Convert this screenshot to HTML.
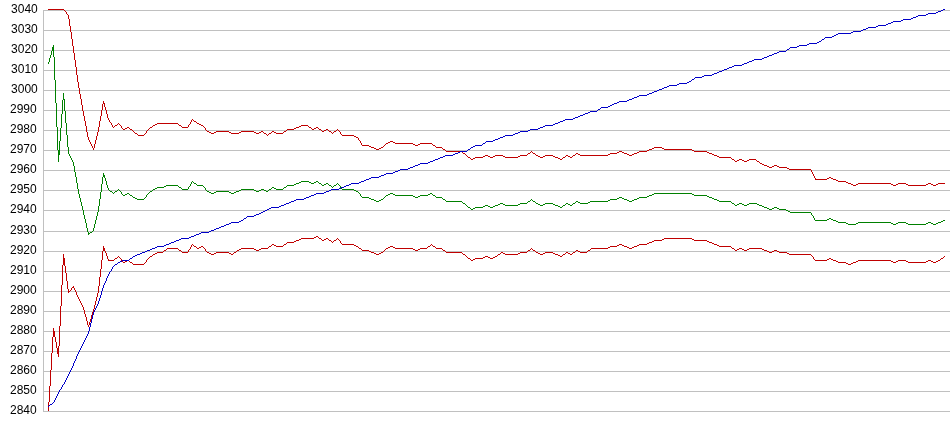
<!DOCTYPE html>
<html><head><meta charset="utf-8"><title>Chart</title>
<style>
html,body{margin:0;padding:0;background:#fff;}
svg{display:block}
text{font-family:"Liberation Sans",sans-serif;font-size:12px;fill:#000;text-anchor:end}
path{shape-rendering:crispEdges;stroke:none}
</style></head><body>
<svg width="950" height="435" viewBox="0 0 950 435">
<rect width="950" height="435" fill="#fff"/>
<path fill="#c0c0c0" d="M43 10h907v1h-907zM43 30h907v1h-907zM43 50h907v1h-907zM43 70h907v1h-907zM43 90h907v1h-907zM43 110h907v1h-907zM43 130h907v1h-907zM43 150h907v1h-907zM43 170h907v1h-907zM43 190h907v1h-907zM43 210h907v1h-907zM43 231h907v1h-907zM43 251h907v1h-907zM43 271h907v1h-907zM43 291h907v1h-907zM43 311h907v1h-907zM43 331h907v1h-907zM43 351h907v1h-907zM43 371h907v1h-907zM43 391h907v1h-907zM43 411h907v1h-907zM43 10h1v402h-1z"/>
<g>
<text x="37.8" y="12.7">3040</text>
<text x="37.8" y="32.7">3030</text>
<text x="37.8" y="52.7">3020</text>
<text x="37.8" y="72.7">3010</text>
<text x="37.8" y="92.7">3000</text>
<text x="36.7" y="112.7">2990</text>
<text x="36.7" y="132.7">2980</text>
<text x="36.7" y="152.7">2970</text>
<text x="36.7" y="172.7">2960</text>
<text x="36.7" y="192.7">2950</text>
<text x="36.7" y="212.7">2940</text>
<text x="36.7" y="233.7">2930</text>
<text x="36.7" y="253.7">2920</text>
<text x="36.7" y="273.7">2910</text>
<text x="36.7" y="293.7">2900</text>
<text x="36.7" y="313.7">2890</text>
<text x="36.7" y="333.7">2880</text>
<text x="36.7" y="353.7">2870</text>
<text x="36.7" y="373.7">2860</text>
<text x="36.7" y="393.7">2850</text>
<text x="36.7" y="413.7">2840</text>
</g>
<path fill="#008000" d="M192 181h1v1h-1zM301 181h8v1h-8zM316 181h2v1h-2zM193 182h1v1h-1zM299 182h2v1h-2zM309 182h2v1h-2zM314 182h2v1h-2zM318 182h1v1h-1zM194 183h2v1h-2zM296 183h3v1h-3zM311 183h3v1h-3zM319 183h2v1h-2zM326 183h2v1h-2zM337 183h1v1h-1zM196 184h1v1h-1zM294 184h2v1h-2zM321 184h1v1h-1zM324 184h2v1h-2zM328 184h1v1h-1zM336 184h1v1h-1zM338 184h1v1h-1zM166 185h12v1h-12zM197 185h6v1h-6zM287 185h7v1h-7zM322 185h2v1h-2zM329 185h2v1h-2zM334 185h2v1h-2zM339 185h1v1h-1zM164 186h2v1h-2zM178 186h1v1h-1zM189 186h1v1h-1zM203 186h1v1h-1zM286 186h1v1h-1zM331 186h1v1h-1zM333 186h1v1h-1zM157 187h7v1h-7zM179 187h2v1h-2zM204 187h1v1h-1zM272 187h2v1h-2zM284 187h2v1h-2zM332 187h1v1h-1zM155 188h2v1h-2zM181 188h1v1h-1zM271 188h1v1h-1zM274 188h2v1h-2zM283 188h1v1h-1zM341 188h1v1h-1zM118 189h1v1h-1zM153 189h2v1h-2zM182 189h6v1h-6zM241 189h13v1h-13zM261 189h3v1h-3zM269 189h2v1h-2zM276 189h7v1h-7zM342 189h12v1h-12zM109 190h1v1h-1zM117 190h1v1h-1zM119 190h1v1h-1zM152 190h1v1h-1zM206 190h1v1h-1zM239 190h2v1h-2zM254 190h2v1h-2zM259 190h2v1h-2zM264 190h2v1h-2zM268 190h1v1h-1zM354 190h2v1h-2zM110 191h2v1h-2zM115 191h2v1h-2zM120 191h1v1h-1zM150 191h2v1h-2zM207 191h2v1h-2zM216 191h13v1h-13zM236 191h3v1h-3zM256 191h3v1h-3zM266 191h2v1h-2zM356 191h2v1h-2zM112 192h1v1h-1zM114 192h1v1h-1zM149 192h1v1h-1zM209 192h2v1h-2zM214 192h2v1h-2zM229 192h2v1h-2zM234 192h2v1h-2zM358 192h1v1h-1zM113 193h1v1h-1zM127 193h2v1h-2zM148 193h1v1h-1zM211 193h3v1h-3zM231 193h3v1h-3zM359 193h1v1h-1zM390 193h3v1h-3zM430 193h2v1h-2zM654 193h38v1h-38zM122 194h1v1h-1zM125 194h2v1h-2zM129 194h1v1h-1zM147 194h1v1h-1zM388 194h2v1h-2zM393 194h2v1h-2zM428 194h2v1h-2zM432 194h1v1h-1zM652 194h2v1h-2zM692 194h2v1h-2zM123 195h2v1h-2zM130 195h2v1h-2zM386 195h2v1h-2zM395 195h18v1h-18zM420 195h8v1h-8zM433 195h2v1h-2zM649 195h3v1h-3zM694 195h13v1h-13zM132 196h1v1h-1zM361 196h1v1h-1zM385 196h1v1h-1zM413 196h2v1h-2zM418 196h2v1h-2zM435 196h1v1h-1zM647 196h2v1h-2zM707 196h2v1h-2zM133 197h2v1h-2zM145 197h1v1h-1zM362 197h7v1h-7zM384 197h1v1h-1zM415 197h3v1h-3zM436 197h6v1h-6zM619 197h3v1h-3zM639 197h8v1h-8zM709 197h3v1h-3zM135 198h2v1h-2zM144 198h1v1h-1zM369 198h2v1h-2zM383 198h1v1h-1zM442 198h1v1h-1zM617 198h2v1h-2zM622 198h2v1h-2zM637 198h2v1h-2zM712 198h2v1h-2zM137 199h7v1h-7zM371 199h3v1h-3zM381 199h2v1h-2zM443 199h2v1h-2zM531 199h1v1h-1zM610 199h7v1h-7zM624 199h3v1h-3zM634 199h3v1h-3zM714 199h3v1h-3zM374 200h2v1h-2zM379 200h2v1h-2zM445 200h1v1h-1zM530 200h1v1h-1zM532 200h1v1h-1zM608 200h2v1h-2zM627 200h2v1h-2zM632 200h2v1h-2zM717 200h2v1h-2zM376 201h3v1h-3zM446 201h16v1h-16zM528 201h2v1h-2zM533 201h2v1h-2zM576 201h2v1h-2zM590 201h18v1h-18zM629 201h3v1h-3zM719 201h12v1h-12zM462 202h1v1h-1zM527 202h1v1h-1zM535 202h1v1h-1zM575 202h1v1h-1zM578 202h2v1h-2zM588 202h2v1h-2zM731 202h1v1h-1zM463 203h2v1h-2zM500 203h3v1h-3zM520 203h7v1h-7zM536 203h2v1h-2zM545 203h8v1h-8zM566 203h2v1h-2zM573 203h2v1h-2zM580 203h8v1h-8zM732 203h2v1h-2zM739 203h3v1h-3zM749 203h8v1h-8zM465 204h1v1h-1zM498 204h2v1h-2zM503 204h2v1h-2zM518 204h2v1h-2zM538 204h2v1h-2zM543 204h2v1h-2zM553 204h2v1h-2zM565 204h1v1h-1zM568 204h2v1h-2zM572 204h1v1h-1zM734 204h1v1h-1zM737 204h2v1h-2zM742 204h2v1h-2zM747 204h2v1h-2zM757 204h2v1h-2zM466 205h1v1h-1zM485 205h3v1h-3zM495 205h3v1h-3zM505 205h13v1h-13zM540 205h3v1h-3zM555 205h3v1h-3zM563 205h2v1h-2zM570 205h2v1h-2zM735 205h2v1h-2zM744 205h3v1h-3zM759 205h3v1h-3zM467 206h1v1h-1zM483 206h2v1h-2zM488 206h2v1h-2zM493 206h2v1h-2zM558 206h2v1h-2zM562 206h1v1h-1zM762 206h2v1h-2zM468 207h2v1h-2zM475 207h8v1h-8zM490 207h3v1h-3zM560 207h2v1h-2zM764 207h3v1h-3zM774 207h3v1h-3zM470 208h1v1h-1zM473 208h2v1h-2zM767 208h2v1h-2zM772 208h2v1h-2zM777 208h2v1h-2zM471 209h2v1h-2zM769 209h3v1h-3zM779 209h7v1h-7zM786 210h2v1h-2zM788 211h2v1h-2zM790 212h21v1h-21zM812 215h1v1h-1zM829 218h2v1h-2zM827 219h2v1h-2zM831 219h2v1h-2zM815 220h12v1h-12zM833 220h3v1h-3zM943 220h2v1h-2zM836 221h2v1h-2zM941 221h2v1h-2zM838 222h8v1h-8zM858 222h33v1h-33zM898 222h8v1h-8zM928 222h3v1h-3zM938 222h3v1h-3zM846 223h2v1h-2zM856 223h2v1h-2zM891 223h2v1h-2zM896 223h2v1h-2zM906 223h2v1h-2zM926 223h2v1h-2zM931 223h2v1h-2zM936 223h2v1h-2zM848 224h8v1h-8zM893 224h3v1h-3zM908 224h18v1h-18zM933 224h3v1h-3zM92 231h1v1h-1zM90 232h2v1h-2zM89 233h1v1h-1zM48 62h1v2h-1zM49 58h1v4h-1zM50 55h1v3h-1zM51 51h1v4h-1zM52 47h1v4h-1zM53 45h1v12h-1zM54 57h1v23h-1zM55 80h1v23h-1zM56 103h1v24h-1zM57 127h1v23h-1zM58 150h1v12h-1zM59 141h1v14h-1zM60 128h1v13h-1zM61 114h1v14h-1zM62 100h1v14h-1zM63 93h1v7h-1zM64 99h1v12h-1zM65 111h1v12h-1zM66 123h1v12h-1zM67 135h1v12h-1zM68 147h1v7h-1zM69 154h1v2h-1zM70 156h1v2h-1zM71 158h1v2h-1zM72 160h1v2h-1zM73 162h1v4h-1zM74 166h1v6h-1zM75 172h1v5h-1zM76 177h1v6h-1zM77 183h1v6h-1zM78 189h1v5h-1zM79 194h1v4h-1zM80 198h1v4h-1zM81 202h1v4h-1zM82 206h1v4h-1zM83 210h1v5h-1zM84 215h1v4h-1zM85 219h1v4h-1zM86 223h1v5h-1zM87 228h1v4h-1zM88 232h1v3h-1zM93 228h1v3h-1zM94 224h1v4h-1zM95 220h1v4h-1zM96 216h1v4h-1zM97 212h1v4h-1zM98 206h1v6h-1zM99 199h1v7h-1zM100 192h1v7h-1zM101 184h1v8h-1zM102 177h1v7h-1zM103 173h1v4h-1zM104 175h1v3h-1zM105 178h1v3h-1zM106 181h1v4h-1zM107 185h1v3h-1zM108 188h1v2h-1zM121 192h1v2h-1zM146 195h1v2h-1zM188 187h1v2h-1zM190 184h1v2h-1zM191 182h1v2h-1zM205 188h1v2h-1zM340 186h1v2h-1zM360 194h1v2h-1zM811 213h1v2h-1zM813 216h1v2h-1zM814 218h1v2h-1z"/>
<path fill="#c00000" d="M48 9h16v1h-16zM64 10h1v1h-1zM65 11h1v1h-1zM67 14h1v1h-1zM192 119h1v1h-1zM193 120h1v1h-1zM194 121h2v1h-2zM110 122h1v1h-1zM196 122h1v1h-1zM118 123h1v1h-1zM157 123h21v1h-21zM197 123h2v1h-2zM117 124h1v1h-1zM119 124h1v1h-1zM155 124h2v1h-2zM178 124h1v1h-1zM189 124h1v1h-1zM199 124h2v1h-2zM115 125h2v1h-2zM120 125h1v1h-1zM153 125h2v1h-2zM179 125h2v1h-2zM201 125h2v1h-2zM301 125h7v1h-7zM114 126h1v1h-1zM152 126h1v1h-1zM181 126h1v1h-1zM203 126h1v1h-1zM299 126h2v1h-2zM308 126h1v1h-1zM113 127h1v1h-1zM127 127h2v1h-2zM150 127h2v1h-2zM182 127h6v1h-6zM204 127h1v1h-1zM296 127h3v1h-3zM309 127h2v1h-2zM316 127h2v1h-2zM122 128h1v1h-1zM125 128h2v1h-2zM129 128h1v1h-1zM149 128h1v1h-1zM294 128h2v1h-2zM311 128h1v1h-1zM314 128h2v1h-2zM318 128h1v1h-1zM123 129h2v1h-2zM130 129h2v1h-2zM148 129h1v1h-1zM287 129h7v1h-7zM312 129h2v1h-2zM319 129h2v1h-2zM326 129h2v1h-2zM337 129h1v1h-1zM132 130h1v1h-1zM147 130h1v1h-1zM206 130h1v1h-1zM286 130h1v1h-1zM321 130h1v1h-1zM324 130h2v1h-2zM328 130h1v1h-1zM336 130h1v1h-1zM338 130h1v1h-1zM133 131h1v1h-1zM207 131h2v1h-2zM216 131h13v1h-13zM241 131h13v1h-13zM261 131h2v1h-2zM272 131h2v1h-2zM284 131h2v1h-2zM322 131h2v1h-2zM329 131h2v1h-2zM334 131h2v1h-2zM339 131h1v1h-1zM134 132h1v1h-1zM209 132h2v1h-2zM214 132h2v1h-2zM229 132h2v1h-2zM239 132h2v1h-2zM254 132h2v1h-2zM259 132h2v1h-2zM263 132h1v1h-1zM271 132h1v1h-1zM274 132h2v1h-2zM283 132h1v1h-1zM331 132h1v1h-1zM333 132h1v1h-1zM135 133h2v1h-2zM145 133h1v1h-1zM211 133h3v1h-3zM231 133h8v1h-8zM256 133h3v1h-3zM264 133h2v1h-2zM269 133h2v1h-2zM276 133h7v1h-7zM332 133h1v1h-1zM137 134h1v1h-1zM144 134h1v1h-1zM266 134h1v1h-1zM268 134h1v1h-1zM341 134h1v1h-1zM138 135h6v1h-6zM267 135h1v1h-1zM342 135h12v1h-12zM354 136h2v1h-2zM356 137h2v1h-2zM359 140h1v1h-1zM390 141h3v1h-3zM388 142h2v1h-2zM393 142h2v1h-2zM386 143h2v1h-2zM395 143h18v1h-18zM420 143h12v1h-12zM385 144h1v1h-1zM413 144h2v1h-2zM418 144h2v1h-2zM432 144h1v1h-1zM362 145h7v1h-7zM384 145h1v1h-1zM415 145h3v1h-3zM433 145h2v1h-2zM369 146h2v1h-2zM383 146h1v1h-1zM435 146h1v1h-1zM371 147h3v1h-3zM381 147h2v1h-2zM436 147h6v1h-6zM654 147h8v1h-8zM374 148h2v1h-2zM379 148h2v1h-2zM442 148h1v1h-1zM652 148h2v1h-2zM662 148h2v1h-2zM376 149h3v1h-3zM443 149h2v1h-2zM649 149h3v1h-3zM664 149h28v1h-28zM445 150h1v1h-1zM647 150h2v1h-2zM692 150h2v1h-2zM446 151h16v1h-16zM531 151h1v1h-1zM619 151h3v1h-3zM639 151h8v1h-8zM694 151h13v1h-13zM462 152h1v1h-1zM530 152h1v1h-1zM532 152h1v1h-1zM617 152h2v1h-2zM622 152h2v1h-2zM637 152h2v1h-2zM707 152h2v1h-2zM463 153h2v1h-2zM528 153h2v1h-2zM533 153h2v1h-2zM576 153h2v1h-2zM610 153h7v1h-7zM624 153h3v1h-3zM634 153h3v1h-3zM709 153h3v1h-3zM465 154h1v1h-1zM527 154h1v1h-1zM535 154h1v1h-1zM575 154h1v1h-1zM578 154h2v1h-2zM608 154h2v1h-2zM627 154h2v1h-2zM632 154h2v1h-2zM712 154h2v1h-2zM466 155h1v1h-1zM485 155h3v1h-3zM495 155h8v1h-8zM520 155h7v1h-7zM536 155h2v1h-2zM545 155h8v1h-8zM566 155h2v1h-2zM573 155h2v1h-2zM580 155h28v1h-28zM629 155h3v1h-3zM714 155h3v1h-3zM467 156h1v1h-1zM483 156h2v1h-2zM488 156h2v1h-2zM493 156h2v1h-2zM503 156h2v1h-2zM518 156h2v1h-2zM538 156h2v1h-2zM543 156h2v1h-2zM553 156h2v1h-2zM565 156h1v1h-1zM568 156h2v1h-2zM572 156h1v1h-1zM717 156h2v1h-2zM468 157h2v1h-2zM475 157h8v1h-8zM490 157h3v1h-3zM505 157h13v1h-13zM540 157h3v1h-3zM555 157h3v1h-3zM563 157h2v1h-2zM570 157h2v1h-2zM719 157h12v1h-12zM470 158h1v1h-1zM473 158h2v1h-2zM558 158h2v1h-2zM562 158h1v1h-1zM731 158h1v1h-1zM471 159h2v1h-2zM560 159h2v1h-2zM732 159h2v1h-2zM739 159h3v1h-3zM749 159h7v1h-7zM734 160h1v1h-1zM737 160h2v1h-2zM742 160h2v1h-2zM747 160h2v1h-2zM756 160h1v1h-1zM735 161h2v1h-2zM744 161h3v1h-3zM757 161h2v1h-2zM759 162h1v1h-1zM760 163h2v1h-2zM762 164h2v1h-2zM764 165h3v1h-3zM774 165h3v1h-3zM767 166h2v1h-2zM772 166h2v1h-2zM777 166h2v1h-2zM769 167h3v1h-3zM779 167h8v1h-8zM787 168h2v1h-2zM789 169h22v1h-22zM829 177h2v1h-2zM827 178h2v1h-2zM831 178h2v1h-2zM815 179h12v1h-12zM833 179h3v1h-3zM836 180h2v1h-2zM838 181h8v1h-8zM846 182h2v1h-2zM848 183h3v1h-3zM858 183h33v1h-33zM898 183h8v1h-8zM928 183h3v1h-3zM938 183h7v1h-7zM851 184h2v1h-2zM856 184h2v1h-2zM891 184h2v1h-2zM896 184h2v1h-2zM906 184h2v1h-2zM926 184h2v1h-2zM931 184h2v1h-2zM936 184h2v1h-2zM853 185h3v1h-3zM893 185h3v1h-3zM908 185h18v1h-18zM933 185h3v1h-3zM66 12h1v2h-1zM68 15h1v4h-1zM69 19h1v7h-1zM70 26h1v6h-1zM71 32h1v7h-1zM72 39h1v7h-1zM73 46h1v7h-1zM74 53h1v7h-1zM75 60h1v7h-1zM76 67h1v8h-1zM77 75h1v7h-1zM78 82h1v6h-1zM79 88h1v6h-1zM80 94h1v5h-1zM81 99h1v6h-1zM82 105h1v6h-1zM83 111h1v5h-1zM84 116h1v5h-1zM85 121h1v5h-1zM86 126h1v6h-1zM87 132h1v5h-1zM88 137h1v3h-1zM89 140h1v2h-1zM90 142h1v2h-1zM91 144h1v2h-1zM92 146h1v2h-1zM93 148h1v2h-1zM94 144h1v4h-1zM95 140h1v4h-1zM96 136h1v4h-1zM97 132h1v4h-1zM98 127h1v5h-1zM99 121h1v6h-1zM100 116h1v5h-1zM101 110h1v6h-1zM102 104h1v6h-1zM103 101h1v3h-1zM104 103h1v4h-1zM105 107h1v3h-1zM106 110h1v4h-1zM107 114h1v4h-1zM108 118h1v2h-1zM109 120h1v2h-1zM111 123h1v2h-1zM112 125h1v2h-1zM121 126h1v2h-1zM146 131h1v2h-1zM188 125h1v2h-1zM190 122h1v2h-1zM191 120h1v2h-1zM205 128h1v2h-1zM340 132h1v2h-1zM358 138h1v2h-1zM360 141h1v2h-1zM361 143h1v2h-1zM811 170h1v2h-1zM812 172h1v2h-1zM813 174h1v2h-1zM814 176h1v2h-1zM815 178h1v1h-1z"/>
<path fill="#c00000" d="M316 236h2v1h-2zM314 237h2v1h-2zM318 237h1v1h-1zM301 238h13v1h-13zM319 238h2v1h-2zM326 238h2v1h-2zM337 238h1v1h-1zM664 238h28v1h-28zM299 239h2v1h-2zM321 239h1v1h-1zM324 239h2v1h-2zM328 239h1v1h-1zM336 239h1v1h-1zM338 239h1v1h-1zM662 239h2v1h-2zM692 239h2v1h-2zM296 240h3v1h-3zM322 240h2v1h-2zM329 240h2v1h-2zM334 240h2v1h-2zM339 240h1v1h-1zM654 240h8v1h-8zM694 240h13v1h-13zM294 241h2v1h-2zM331 241h1v1h-1zM333 241h1v1h-1zM652 241h2v1h-2zM707 241h2v1h-2zM287 242h7v1h-7zM332 242h1v1h-1zM649 242h3v1h-3zM709 242h3v1h-3zM286 243h1v1h-1zM341 243h1v1h-1zM647 243h2v1h-2zM712 243h2v1h-2zM192 244h1v1h-1zM272 244h2v1h-2zM284 244h2v1h-2zM342 244h12v1h-12zM431 244h1v1h-1zM619 244h3v1h-3zM639 244h8v1h-8zM714 244h3v1h-3zM193 245h1v1h-1zM271 245h1v1h-1zM274 245h2v1h-2zM283 245h1v1h-1zM354 245h2v1h-2zM430 245h1v1h-1zM432 245h1v1h-1zM617 245h2v1h-2zM622 245h2v1h-2zM637 245h2v1h-2zM717 245h2v1h-2zM194 246h2v1h-2zM201 246h2v1h-2zM269 246h2v1h-2zM276 246h7v1h-7zM356 246h2v1h-2zM390 246h3v1h-3zM428 246h2v1h-2zM433 246h2v1h-2zM610 246h7v1h-7zM624 246h3v1h-3zM634 246h3v1h-3zM719 246h12v1h-12zM196 247h1v1h-1zM199 247h2v1h-2zM203 247h1v1h-1zM268 247h1v1h-1zM358 247h1v1h-1zM388 247h2v1h-2zM393 247h2v1h-2zM427 247h1v1h-1zM435 247h1v1h-1zM608 247h2v1h-2zM627 247h2v1h-2zM632 247h2v1h-2zM731 247h1v1h-1zM167 248h11v1h-11zM197 248h2v1h-2zM204 248h1v1h-1zM241 248h13v1h-13zM261 248h7v1h-7zM359 248h2v1h-2zM386 248h2v1h-2zM395 248h18v1h-18zM420 248h7v1h-7zM436 248h6v1h-6zM531 248h1v1h-1zM591 248h17v1h-17zM629 248h3v1h-3zM732 248h2v1h-2zM739 248h3v1h-3zM749 248h13v1h-13zM166 249h1v1h-1zM178 249h1v1h-1zM189 249h1v1h-1zM239 249h2v1h-2zM254 249h2v1h-2zM259 249h2v1h-2zM361 249h1v1h-1zM385 249h1v1h-1zM413 249h2v1h-2zM418 249h2v1h-2zM442 249h1v1h-1zM530 249h1v1h-1zM532 249h1v1h-1zM590 249h1v1h-1zM734 249h1v1h-1zM737 249h2v1h-2zM742 249h2v1h-2zM747 249h2v1h-2zM762 249h2v1h-2zM164 250h2v1h-2zM179 250h2v1h-2zM237 250h2v1h-2zM256 250h3v1h-3zM362 250h7v1h-7zM384 250h1v1h-1zM415 250h3v1h-3zM443 250h2v1h-2zM528 250h2v1h-2zM533 250h2v1h-2zM576 250h2v1h-2zM588 250h2v1h-2zM735 250h2v1h-2zM744 250h3v1h-3zM764 250h3v1h-3zM774 250h3v1h-3zM163 251h1v1h-1zM181 251h1v1h-1zM206 251h1v1h-1zM236 251h1v1h-1zM369 251h2v1h-2zM383 251h1v1h-1zM445 251h1v1h-1zM527 251h1v1h-1zM535 251h1v1h-1zM575 251h1v1h-1zM578 251h2v1h-2zM587 251h1v1h-1zM767 251h2v1h-2zM772 251h2v1h-2zM777 251h2v1h-2zM157 252h6v1h-6zM182 252h6v1h-6zM207 252h2v1h-2zM216 252h13v1h-13zM234 252h2v1h-2zM371 252h3v1h-3zM381 252h2v1h-2zM446 252h16v1h-16zM501 252h2v1h-2zM520 252h7v1h-7zM536 252h2v1h-2zM545 252h8v1h-8zM566 252h2v1h-2zM573 252h2v1h-2zM580 252h7v1h-7zM769 252h3v1h-3zM779 252h8v1h-8zM155 253h2v1h-2zM209 253h2v1h-2zM214 253h2v1h-2zM229 253h2v1h-2zM233 253h1v1h-1zM374 253h2v1h-2zM379 253h2v1h-2zM462 253h1v1h-1zM500 253h1v1h-1zM503 253h2v1h-2zM518 253h2v1h-2zM538 253h2v1h-2zM543 253h2v1h-2zM553 253h2v1h-2zM565 253h1v1h-1zM568 253h2v1h-2zM572 253h1v1h-1zM787 253h2v1h-2zM153 254h2v1h-2zM211 254h3v1h-3zM231 254h2v1h-2zM376 254h3v1h-3zM463 254h2v1h-2zM498 254h2v1h-2zM505 254h13v1h-13zM540 254h3v1h-3zM555 254h3v1h-3zM563 254h2v1h-2zM570 254h2v1h-2zM789 254h22v1h-22zM152 255h1v1h-1zM465 255h1v1h-1zM497 255h1v1h-1zM558 255h2v1h-2zM562 255h1v1h-1zM811 255h1v1h-1zM118 256h1v1h-1zM150 256h2v1h-2zM466 256h1v1h-1zM485 256h3v1h-3zM495 256h2v1h-2zM560 256h2v1h-2zM812 256h1v1h-1zM944 256h1v1h-1zM117 257h1v1h-1zM119 257h1v1h-1zM149 257h1v1h-1zM467 257h1v1h-1zM483 257h2v1h-2zM488 257h2v1h-2zM493 257h2v1h-2zM943 257h1v1h-1zM115 258h2v1h-2zM120 258h1v1h-1zM148 258h1v1h-1zM468 258h2v1h-2zM475 258h8v1h-8zM490 258h3v1h-3zM829 258h2v1h-2zM941 258h2v1h-2zM114 259h1v1h-1zM147 259h1v1h-1zM470 259h1v1h-1zM473 259h2v1h-2zM814 259h1v1h-1zM827 259h2v1h-2zM831 259h2v1h-2zM940 259h1v1h-1zM108 260h6v1h-6zM127 260h2v1h-2zM471 260h2v1h-2zM815 260h12v1h-12zM833 260h3v1h-3zM858 260h33v1h-33zM898 260h8v1h-8zM928 260h3v1h-3zM938 260h2v1h-2zM122 261h1v1h-1zM125 261h2v1h-2zM129 261h1v1h-1zM836 261h2v1h-2zM856 261h2v1h-2zM891 261h2v1h-2zM896 261h2v1h-2zM906 261h2v1h-2zM926 261h2v1h-2zM931 261h2v1h-2zM936 261h2v1h-2zM123 262h2v1h-2zM130 262h2v1h-2zM145 262h1v1h-1zM838 262h8v1h-8zM853 262h3v1h-3zM893 262h3v1h-3zM908 262h18v1h-18zM933 262h3v1h-3zM132 263h1v1h-1zM144 263h1v1h-1zM846 263h2v1h-2zM851 263h2v1h-2zM133 264h11v1h-11zM848 264h3v1h-3zM72 287h2v1h-2zM70 290h1v1h-1zM69 291h1v1h-1zM48 402h1v9h-1zM49 386h1v16h-1zM50 370h1v16h-1zM51 353h1v17h-1zM52 337h1v16h-1zM53 328h1v9h-1zM54 331h1v6h-1zM55 337h1v5h-1zM56 342h1v6h-1zM57 348h1v6h-1zM58 346h1v11h-1zM59 326h1v20h-1zM60 306h1v20h-1zM61 285h1v21h-1zM62 265h1v20h-1zM63 254h1v11h-1zM64 258h1v8h-1zM65 266h1v7h-1zM66 273h1v8h-1zM67 281h1v8h-1zM68 289h1v4h-1zM71 288h1v2h-1zM73 286h1v1h-1zM74 288h1v2h-1zM75 290h1v2h-1zM76 292h1v3h-1zM77 295h1v2h-1zM78 297h1v2h-1zM79 299h1v2h-1zM80 301h1v2h-1zM81 303h1v2h-1zM82 305h1v2h-1zM83 307h1v3h-1zM84 310h1v4h-1zM85 314h1v3h-1zM86 317h1v4h-1zM87 321h1v4h-1zM88 325h1v2h-1zM89 322h1v3h-1zM90 319h1v3h-1zM91 315h1v4h-1zM92 312h1v3h-1zM93 309h1v3h-1zM94 305h1v4h-1zM95 301h1v4h-1zM96 297h1v4h-1zM97 293h1v4h-1zM98 286h1v7h-1zM99 277h1v9h-1zM100 269h1v8h-1zM101 260h1v9h-1zM102 251h1v9h-1zM103 246h1v5h-1zM104 248h1v3h-1zM105 251h1v2h-1zM106 253h1v3h-1zM107 256h1v3h-1zM108 259h1v1h-1zM121 259h1v2h-1zM146 260h1v2h-1zM188 250h1v2h-1zM190 247h1v2h-1zM191 245h1v2h-1zM205 249h1v2h-1zM340 241h1v2h-1zM813 257h1v2h-1z"/>
<path fill="#0000c8" d="M943 9h2v1h-2zM941 10h2v1h-2zM938 11h3v1h-3zM936 12h2v1h-2zM928 13h8v1h-8zM926 14h2v1h-2zM918 15h8v1h-8zM916 16h2v1h-2zM913 17h3v1h-3zM911 18h2v1h-2zM903 19h8v1h-8zM901 20h2v1h-2zM893 21h8v1h-8zM891 22h2v1h-2zM888 23h3v1h-3zM886 24h2v1h-2zM878 25h8v1h-8zM876 26h2v1h-2zM868 27h8v1h-8zM866 28h2v1h-2zM863 29h3v1h-3zM861 30h2v1h-2zM853 31h8v1h-8zM851 32h2v1h-2zM838 33h13v1h-13zM836 34h2v1h-2zM834 35h2v1h-2zM832 36h2v1h-2zM825 37h7v1h-7zM824 38h1v1h-1zM822 39h2v1h-2zM821 40h1v1h-1zM819 41h2v1h-2zM817 42h2v1h-2zM809 43h8v1h-8zM807 44h2v1h-2zM799 45h8v1h-8zM797 46h2v1h-2zM790 47h7v1h-7zM789 48h1v1h-1zM787 49h2v1h-2zM786 50h1v1h-1zM779 51h7v1h-7zM777 52h2v1h-2zM774 53h3v1h-3zM772 54h2v1h-2zM769 55h3v1h-3zM767 56h2v1h-2zM764 57h3v1h-3zM762 58h2v1h-2zM754 59h8v1h-8zM752 60h2v1h-2zM749 61h3v1h-3zM747 62h2v1h-2zM744 63h3v1h-3zM742 64h2v1h-2zM734 65h8v1h-8zM732 66h2v1h-2zM729 67h3v1h-3zM727 68h2v1h-2zM724 69h3v1h-3zM722 70h2v1h-2zM719 71h3v1h-3zM717 72h2v1h-2zM714 73h3v1h-3zM712 74h2v1h-2zM704 75h8v1h-8zM702 76h2v1h-2zM695 77h7v1h-7zM694 78h1v1h-1zM692 79h2v1h-2zM691 80h1v1h-1zM689 81h2v1h-2zM687 82h2v1h-2zM679 83h8v1h-8zM677 84h2v1h-2zM669 85h8v1h-8zM667 86h2v1h-2zM664 87h3v1h-3zM662 88h2v1h-2zM659 89h3v1h-3zM657 90h2v1h-2zM654 91h3v1h-3zM652 92h2v1h-2zM649 93h3v1h-3zM647 94h2v1h-2zM639 95h8v1h-8zM637 96h2v1h-2zM634 97h3v1h-3zM632 98h2v1h-2zM629 99h3v1h-3zM627 100h2v1h-2zM619 101h8v1h-8zM617 102h2v1h-2zM614 103h3v1h-3zM612 104h2v1h-2zM610 105h2v1h-2zM608 106h2v1h-2zM601 107h7v1h-7zM600 108h1v1h-1zM598 109h2v1h-2zM597 110h1v1h-1zM590 111h7v1h-7zM588 112h2v1h-2zM585 113h3v1h-3zM583 114h2v1h-2zM580 115h3v1h-3zM578 116h2v1h-2zM575 117h3v1h-3zM573 118h2v1h-2zM565 119h8v1h-8zM563 120h2v1h-2zM560 121h3v1h-3zM558 122h2v1h-2zM555 123h3v1h-3zM553 124h2v1h-2zM545 125h8v1h-8zM543 126h2v1h-2zM540 127h3v1h-3zM538 128h2v1h-2zM530 129h8v1h-8zM528 130h2v1h-2zM520 131h8v1h-8zM518 132h2v1h-2zM515 133h3v1h-3zM513 134h2v1h-2zM505 135h8v1h-8zM503 136h2v1h-2zM500 137h3v1h-3zM498 138h2v1h-2zM495 139h3v1h-3zM493 140h2v1h-2zM486 141h7v1h-7zM485 142h1v1h-1zM483 143h2v1h-2zM482 144h1v1h-1zM475 145h7v1h-7zM473 146h2v1h-2zM471 147h2v1h-2zM470 148h1v1h-1zM468 149h2v1h-2zM467 150h1v1h-1zM460 151h7v1h-7zM458 152h2v1h-2zM455 153h3v1h-3zM453 154h2v1h-2zM445 155h8v1h-8zM443 156h2v1h-2zM440 157h3v1h-3zM438 158h2v1h-2zM435 159h3v1h-3zM433 160h2v1h-2zM430 161h3v1h-3zM428 162h2v1h-2zM420 163h8v1h-8zM418 164h2v1h-2zM415 165h3v1h-3zM413 166h2v1h-2zM410 167h3v1h-3zM408 168h2v1h-2zM400 169h8v1h-8zM398 170h2v1h-2zM395 171h3v1h-3zM393 172h2v1h-2zM386 173h7v1h-7zM384 174h2v1h-2zM381 175h3v1h-3zM379 176h2v1h-2zM371 177h8v1h-8zM369 178h2v1h-2zM366 179h3v1h-3zM364 180h2v1h-2zM361 181h3v1h-3zM359 182h2v1h-2zM351 183h8v1h-8zM349 184h2v1h-2zM346 185h3v1h-3zM344 186h2v1h-2zM341 187h3v1h-3zM339 188h2v1h-2zM331 189h8v1h-8zM329 190h2v1h-2zM326 191h3v1h-3zM324 192h2v1h-2zM316 193h8v1h-8zM314 194h2v1h-2zM311 195h3v1h-3zM309 196h2v1h-2zM306 197h3v1h-3zM304 198h2v1h-2zM296 199h8v1h-8zM294 200h2v1h-2zM291 201h3v1h-3zM289 202h2v1h-2zM286 203h3v1h-3zM284 204h2v1h-2zM281 205h3v1h-3zM279 206h2v1h-2zM271 207h8v1h-8zM269 208h2v1h-2zM267 209h2v1h-2zM265 210h2v1h-2zM263 211h2v1h-2zM261 212h2v1h-2zM259 213h2v1h-2zM256 214h3v1h-3zM254 215h2v1h-2zM247 216h7v1h-7zM246 217h1v1h-1zM244 218h2v1h-2zM243 219h1v1h-1zM241 220h2v1h-2zM239 221h2v1h-2zM231 222h8v1h-8zM229 223h2v1h-2zM226 224h3v1h-3zM224 225h2v1h-2zM221 226h3v1h-3zM219 227h2v1h-2zM216 228h3v1h-3zM214 229h2v1h-2zM211 230h3v1h-3zM209 231h2v1h-2zM201 232h8v1h-8zM199 233h2v1h-2zM196 234h3v1h-3zM194 235h2v1h-2zM191 236h3v1h-3zM189 237h2v1h-2zM181 238h8v1h-8zM179 239h2v1h-2zM176 240h3v1h-3zM174 241h2v1h-2zM171 242h3v1h-3zM169 243h2v1h-2zM166 244h3v1h-3zM164 245h2v1h-2zM157 246h7v1h-7zM155 247h2v1h-2zM152 248h3v1h-3zM150 249h2v1h-2zM147 250h3v1h-3zM145 251h2v1h-2zM142 252h3v1h-3zM140 253h2v1h-2zM137 254h3v1h-3zM135 255h2v1h-2zM133 256h2v1h-2zM132 257h1v1h-1zM130 258h2v1h-2zM129 259h1v1h-1zM122 260h7v1h-7zM120 261h2v1h-2zM118 262h2v1h-2zM117 263h1v1h-1zM115 264h2v1h-2zM114 265h1v1h-1zM113 266h1v1h-1zM110 271h1v1h-1zM63 384h1v1h-1zM60 389h1v1h-1zM53 402h1v1h-1zM52 403h1v1h-1zM50 404h2v1h-2zM49 405h1v1h-1zM48 406h1v1h-1zM54 400h1v2h-1zM55 398h1v2h-1zM56 396h1v2h-1zM57 394h1v2h-1zM58 392h1v2h-1zM59 390h1v2h-1zM61 387h1v2h-1zM62 385h1v2h-1zM64 382h1v2h-1zM65 380h1v2h-1zM66 378h1v2h-1zM67 376h1v2h-1zM68 374h1v2h-1zM69 372h1v2h-1zM70 370h1v2h-1zM71 368h1v2h-1zM72 366h1v2h-1zM73 363h1v3h-1zM74 361h1v2h-1zM75 359h1v2h-1zM76 356h1v3h-1zM77 354h1v2h-1zM78 352h1v2h-1zM79 350h1v2h-1zM80 348h1v2h-1zM81 346h1v2h-1zM82 344h1v2h-1zM83 342h1v2h-1zM84 340h1v2h-1zM85 338h1v2h-1zM86 336h1v2h-1zM87 334h1v2h-1zM88 331h1v3h-1zM89 327h1v4h-1zM90 323h1v4h-1zM91 319h1v4h-1zM92 315h1v4h-1zM93 312h1v3h-1zM94 310h1v2h-1zM95 308h1v2h-1zM96 306h1v2h-1zM97 304h1v2h-1zM98 301h1v3h-1zM99 298h1v3h-1zM100 295h1v3h-1zM101 291h1v4h-1zM102 288h1v3h-1zM103 285h1v3h-1zM104 283h1v2h-1zM105 281h1v2h-1zM106 278h1v3h-1zM107 276h1v2h-1zM108 274h1v2h-1zM109 272h1v2h-1zM111 269h1v2h-1zM112 267h1v2h-1z"/>
</svg>
</body></html>
